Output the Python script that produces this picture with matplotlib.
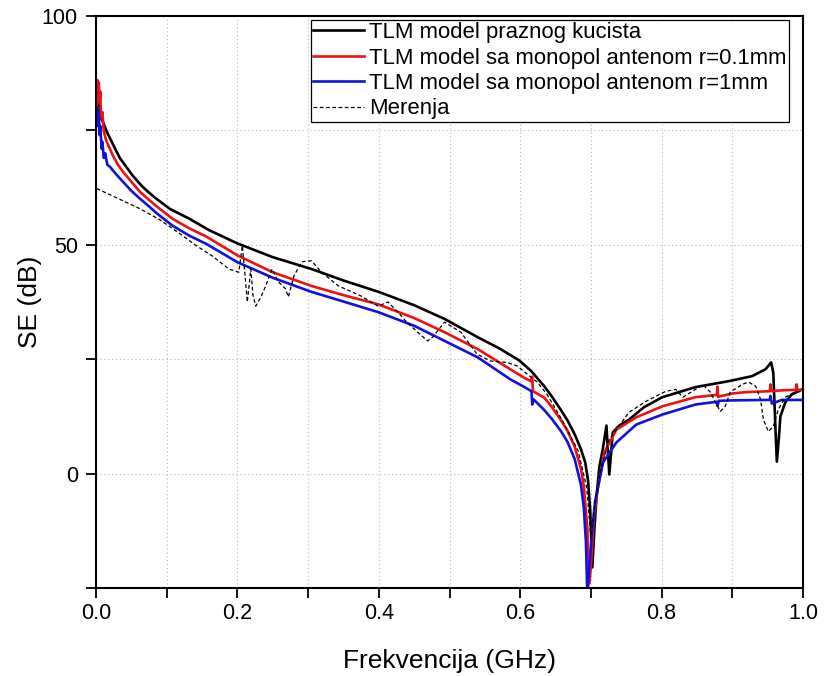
import matplotlib
matplotlib.use("Agg")
import matplotlib.pyplot as plt
from matplotlib.ticker import MultipleLocator

plt.rcParams['font.family'] = ['Liberation Sans', 'DejaVu Sans']

# TLM model praznog kucista (black)
bx = [0.001, 0.003, 0.005, 0.008, 0.012, 0.015, 0.02, 0.027, 0.034, 0.043, 0.052, 0.065,
      0.075, 0.085, 0.105, 0.132, 0.16, 0.2, 0.25, 0.305, 0.35, 0.4, 0.45, 0.493, 0.54,
      0.57, 0.598, 0.615, 0.634, 0.645, 0.658, 0.667, 0.677, 0.686, 0.692, 0.696, 0.699,
      0.702, 0.705, 0.708, 0.712, 0.717, 0.722, 0.724, 0.726, 0.731, 0.74, 0.754, 0.775,
      0.801, 0.848, 0.895, 0.928, 0.947, 0.955, 0.958, 0.961, 0.963, 0.966, 0.968, 0.975,
      0.984, 1.0]
by = [80, 83, 79, 77.5, 76, 74.8, 73.2, 71, 68.9, 67, 65.1, 62.8,
      61.4, 60.1, 57.8, 55.7, 53.2, 50.3, 47.3, 44.7, 42.2, 39.7, 36.8, 33.8, 29.8,
      27.4, 24.8, 22.5, 19.1, 16.8, 13.8, 11.6, 8.6, 5.3, 2.4, -1.5, -8,
      -20.5, -12, -5, 1.5, 5.5, 10.5, 5, -0.2, 9, 10.5, 11.8, 14.5,
      16.7, 18.9, 20.2, 21.3, 22.8, 24.3, 22, 10, 2.6, 8, 12.5, 15.6,
      17.3, 18.5]

# TLM model sa monopol antenom r=0.1mm (red)
rx = [0.001, 0.002, 0.003, 0.004, 0.005, 0.006, 0.007, 0.009, 0.011, 0.014, 0.018, 0.024,
      0.031, 0.038, 0.05, 0.062, 0.075, 0.085, 0.108, 0.132, 0.156, 0.2, 0.25, 0.305,
      0.35, 0.399, 0.45, 0.493, 0.54, 0.586, 0.605, 0.615, 0.617, 0.618, 0.634, 0.645,
      0.658, 0.667, 0.677, 0.686, 0.69, 0.695, 0.698, 0.701, 0.704, 0.71, 0.719, 0.736,
      0.764, 0.801, 0.848, 0.878, 0.879, 0.88, 0.9, 0.919, 0.953, 0.954, 0.955, 0.97,
      0.99, 0.991, 0.992, 1.0]
ry = [80, 86, 82, 85.5, 81, 83.5, 78, 79, 74.8, 73, 71.5, 69.5,
      67.5, 66, 63.8, 61.6, 59.8, 58.5, 55.7, 53.6, 51.8, 47.7, 44, 41,
      39, 37, 34, 30.9, 27.2, 22.8, 21, 20.2, 21.2, 18, 16.6, 14.5,
      11.6, 9.3, 5.9, 1, -2.8, -12, -24, -18, -10, -3, 4.6, 9.6,
      12.3, 14.7, 16.7, 17.2, 19, 16.8, 17.5, 17.8, 18, 19.5, 18, 18.2,
      18.3, 19.5, 18.3, 18.3]

# TLM model sa monopol antenom r=1mm (blue)
ux = [0.001, 0.002, 0.003, 0.004, 0.005, 0.006, 0.008, 0.009, 0.011, 0.013, 0.016, 0.02,
      0.028, 0.038, 0.05, 0.062, 0.075, 0.085, 0.108, 0.132, 0.156, 0.2, 0.25, 0.305,
      0.35, 0.399, 0.45, 0.493, 0.54, 0.586, 0.605, 0.616, 0.617, 0.619, 0.634, 0.645,
      0.658, 0.667, 0.677, 0.686, 0.69, 0.693, 0.695, 0.698, 0.702, 0.706, 0.71, 0.717,
      0.736, 0.764, 0.801, 0.848, 0.878, 0.879, 0.881, 0.9, 0.95, 0.953, 0.954, 0.956,
      0.97, 0.99, 1.0]
uy = [76, 80, 77, 79, 74, 76, 71, 72.5, 69, 70, 67.5, 67,
      65.5, 63.8, 61.8, 60.1, 58.4, 57, 54.2, 52, 50.2, 46.2, 42.8, 39.7,
      37.6, 35.3, 32.3, 29, 25.4, 20.6, 19, 18, 15.1, 16.2, 13.9, 11.9,
      9.2, 6.9, 3.2, -2.5, -7.5, -15, -27, -20, -12, -6, -3, 2.4,
      6.8, 10.7, 12.9, 15.1, 15.7, 14.8, 15.9, 16, 16.1, 16.1, 17, 15.3,
      16.1, 16.1, 16.1]

# Merenja (dashed)
mx = [0.001, 0.03, 0.062, 0.09, 0.118, 0.14, 0.164, 0.188, 0.202, 0.207, 0.211, 0.214,
      0.219, 0.222, 0.226, 0.233, 0.24, 0.249, 0.258, 0.268, 0.272, 0.28, 0.291, 0.305,
      0.319, 0.343, 0.375, 0.399, 0.413, 0.427, 0.44, 0.455, 0.469, 0.476, 0.493, 0.516,
      0.539, 0.558, 0.581, 0.596, 0.624, 0.638, 0.66, 0.682, 0.694, 0.7, 0.706, 0.714,
      0.726, 0.754, 0.778, 0.806, 0.82, 0.83, 0.848, 0.858, 0.869, 0.876, 0.883, 0.89,
      0.897, 0.914, 0.923, 0.933, 0.94, 0.944, 0.951, 0.958, 0.965, 0.975, 0.989, 1.0]
my = [62.3, 60.2, 57.9, 55.5, 52.5, 50, 47.6, 44.7, 44, 49.8, 43, 37.5,
      44.7, 39, 36.6, 38.5, 41, 44.7, 41.9, 40.4, 38.6, 43.2, 46.3, 46.5,
      44, 41, 38.8, 36.6, 37.5, 35.3, 33, 30.9, 29, 29.8, 33.1, 30.9,
      26.1, 24.6, 24.3, 23.5, 20, 17.3, 11.5, 5, -3, -14, -6, 1,
      7.5, 13.4, 15.8, 18, 18.4, 16.7, 18.4, 19.5, 17.8, 15.6, 13.6, 14.7,
      17.8, 19.5, 20, 19.1, 16.2, 11.8, 9.2, 10.3, 14, 16.7, 17.8, 18]

fig = plt.figure(figsize=(8.25, 6.76), dpi=100)
ax = fig.add_axes([96 / 825, 88 / 676, 707 / 825, 572 / 676])

ax.plot(bx, by, color='black', lw=1.9, label='TLM model praznog kucista')
ax.plot(rx, ry, color='#ee1111', lw=1.9, label='TLM model sa monopol antenom r=0.1mm')
ax.plot(ux, uy, color='#1111dd', lw=1.9, label='TLM model sa monopol antenom r=1mm')
ax.plot(mx, my, color='black', lw=0.9, ls=(0, (3, 2)), label='Merenja')

ax.set_xlim(0, 1.0)
ax.set_ylim(-25, 100)
ax.xaxis.set_major_locator(MultipleLocator(0.2))
ax.xaxis.set_minor_locator(MultipleLocator(0.1))
ax.yaxis.set_major_locator(MultipleLocator(50))
ax.yaxis.set_minor_locator(MultipleLocator(25))
ax.set_xticklabels([f'{v:.1f}' for v in ax.get_xticks()])

ax.grid(True, which='both', color='#b4b4b4', lw=0.8, ls=(0, (1, 2.5)))
ax.set_axisbelow(True)
ax.tick_params(which='both', direction='out', length=7, width=1.3, labelsize=15.5,
               top=False, right=False)
ax.tick_params(axis='x', pad=3.5)
ax.tick_params(axis='y', pad=6)
for s in ax.spines.values():
    s.set_linewidth(1.5)

ax.set_xlabel('Frekvencija (GHz)', fontsize=19, labelpad=18)
ax.set_ylabel('SE (dB)', fontsize=19, labelpad=0)

leg = ax.legend(loc='upper right', bbox_to_anchor=(0.98, 0.993), borderaxespad=0,
                fontsize=15.9, fancybox=False, framealpha=1, edgecolor='black',
                handlelength=2.3, handletextpad=0.25, labelspacing=0.2,
                borderpad=0.1)
leg.get_frame().set_linewidth(0.9)

fig.savefig('out.png', dpi=100)
